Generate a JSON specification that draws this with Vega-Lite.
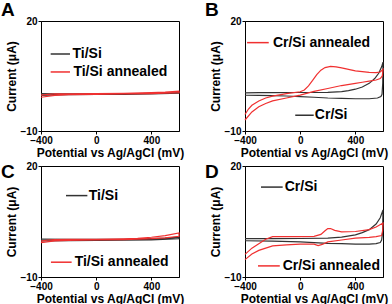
{
"$schema": "https://vega.github.io/schema/vega-lite/v6.json",
"padding": {"top": 0, "left": 0, "right": 0, "bottom": 0},
"config": {
 "view": {"stroke": "black", "strokeWidth": 1},
 "font": "Liberation Sans",
 "axis": {"grid": false, "domainColor": "black", "tickColor": "black", "labelColor": "black", "titleColor": "black", "labelFont": "Liberation Sans", "titleFont": "Liberation Sans", "labelFontWeight": "bold", "titleFontWeight": "bold", "labelFontSize": 10, "titleFontSize": 12, "labelPadding": 1, "titlePadding": 2, "labelOverlap": false, "labelFlush": false, "tickSize": 3},
 "title": {"font": "Liberation Sans", "fontSize": 19, "fontWeight": "bold", "anchor": "start", "frame": "bounds", "color": "black"},
 "line": {"strokeWidth": 1.2}
},
"datasets": {
 "cv": [
  {"p":"A","c":"k","i":1,"x":-400,"y":0.2},{"p":"A","c":"k","i":2,"x":-300,"y":0.15},{"p":"A","c":"k","i":3,"x":-200,"y":0.1},{"p":"A","c":"k","i":4,"x":0,"y":0.1},{"p":"A","c":"k","i":5,"x":200,"y":0.15},{"p":"A","c":"k","i":6,"x":400,"y":0.25},{"p":"A","c":"k","i":7,"x":500,"y":0.35},{"p":"A","c":"k","i":8,"x":600,"y":0.5},
  {"p":"A","c":"k","i":9,"x":600,"y":0.3},{"p":"A","c":"k","i":10,"x":400,"y":0.1},{"p":"A","c":"k","i":11,"x":200,"y":0.0},{"p":"A","c":"k","i":12,"x":0,"y":-0.05},{"p":"A","c":"k","i":13,"x":-200,"y":-0.1},{"p":"A","c":"k","i":14,"x":-300,"y":-0.15},{"p":"A","c":"k","i":15,"x":-400,"y":-0.3},
  {"p":"A","c":"r","i":1,"x":-400,"y":-0.2},{"p":"A","c":"r","i":2,"x":-350,"y":0.0},{"p":"A","c":"r","i":3,"x":-300,"y":0.1},{"p":"A","c":"r","i":4,"x":-200,"y":0.15},{"p":"A","c":"r","i":5,"x":0,"y":0.2},{"p":"A","c":"r","i":6,"x":200,"y":0.3},{"p":"A","c":"r","i":7,"x":400,"y":0.45},{"p":"A","c":"r","i":8,"x":500,"y":0.6},{"p":"A","c":"r","i":9,"x":600,"y":0.85},
  {"p":"A","c":"r","i":10,"x":600,"y":0.45},{"p":"A","c":"r","i":11,"x":500,"y":0.3},{"p":"A","c":"r","i":12,"x":400,"y":0.2},{"p":"A","c":"r","i":13,"x":200,"y":0.1},{"p":"A","c":"r","i":14,"x":0,"y":0.0},{"p":"A","c":"r","i":15,"x":-200,"y":-0.1},{"p":"A","c":"r","i":16,"x":-300,"y":-0.3},{"p":"A","c":"r","i":17,"x":-400,"y":-0.8},

  {"p":"B","c":"k","i":1,"x":-400,"y":0.4},{"p":"B","c":"k","i":2,"x":-300,"y":0.45},{"p":"B","c":"k","i":3,"x":-200,"y":0.45},{"p":"B","c":"k","i":4,"x":0,"y":0.5},{"p":"B","c":"k","i":5,"x":200,"y":0.55},{"p":"B","c":"k","i":6,"x":300,"y":0.75},{"p":"B","c":"k","i":7,"x":350,"y":1.0},{"p":"B","c":"k","i":8,"x":400,"y":1.4},{"p":"B","c":"k","i":9,"x":450,"y":2.0},{"p":"B","c":"k","i":10,"x":500,"y":3.0},{"p":"B","c":"k","i":11,"x":540,"y":4.3},{"p":"B","c":"k","i":12,"x":570,"y":5.8},{"p":"B","c":"k","i":13,"x":590,"y":7.5},{"p":"B","c":"k","i":14,"x":600,"y":8.8},
  {"p":"B","c":"k","i":15,"x":598,"y":3.0},{"p":"B","c":"k","i":16,"x":593,"y":0.0},{"p":"B","c":"k","i":17,"x":585,"y":-0.6},{"p":"B","c":"k","i":18,"x":560,"y":-1.0},{"p":"B","c":"k","i":19,"x":500,"y":-1.2},{"p":"B","c":"k","i":20,"x":400,"y":-1.2},{"p":"B","c":"k","i":21,"x":300,"y":-1.1},{"p":"B","c":"k","i":22,"x":200,"y":-1.0},{"p":"B","c":"k","i":23,"x":100,"y":-0.8},{"p":"B","c":"k","i":24,"x":0,"y":-0.6},{"p":"B","c":"k","i":25,"x":-100,"y":-0.45},{"p":"B","c":"k","i":26,"x":-200,"y":-0.35},{"p":"B","c":"k","i":27,"x":-300,"y":-0.3},{"p":"B","c":"k","i":28,"x":-400,"y":-0.25},
  {"p":"B","c":"r","i":1,"x":-400,"y":-5.5},{"p":"B","c":"r","i":2,"x":-375,"y":-4.0},{"p":"B","c":"r","i":3,"x":-350,"y":-3.0},{"p":"B","c":"r","i":4,"x":-300,"y":-1.8},{"p":"B","c":"r","i":5,"x":-250,"y":-1.0},{"p":"B","c":"r","i":6,"x":-200,"y":-0.5},{"p":"B","c":"r","i":7,"x":-100,"y":0.2},{"p":"B","c":"r","i":8,"x":0,"y":0.7},{"p":"B","c":"r","i":9,"x":30,"y":1.2},{"p":"B","c":"r","i":10,"x":60,"y":2.3},{"p":"B","c":"r","i":11,"x":90,"y":3.8},{"p":"B","c":"r","i":12,"x":120,"y":5.4},{"p":"B","c":"r","i":13,"x":150,"y":6.6},{"p":"B","c":"r","i":14,"x":180,"y":7.3},{"p":"B","c":"r","i":15,"x":220,"y":7.6},{"p":"B","c":"r","i":16,"x":260,"y":7.5},{"p":"B","c":"r","i":17,"x":300,"y":7.2},{"p":"B","c":"r","i":18,"x":350,"y":6.8},{"p":"B","c":"r","i":19,"x":400,"y":6.4},{"p":"B","c":"r","i":20,"x":450,"y":6.2},{"p":"B","c":"r","i":21,"x":500,"y":6.0},{"p":"B","c":"r","i":22,"x":550,"y":5.9},{"p":"B","c":"r","i":23,"x":580,"y":6.1},{"p":"B","c":"r","i":24,"x":600,"y":6.8},
  {"p":"B","c":"r","i":25,"x":595,"y":5.0},{"p":"B","c":"r","i":26,"x":580,"y":4.3},{"p":"B","c":"r","i":27,"x":550,"y":3.9},{"p":"B","c":"r","i":28,"x":500,"y":3.6},{"p":"B","c":"r","i":29,"x":450,"y":3.3},{"p":"B","c":"r","i":30,"x":400,"y":3.0},{"p":"B","c":"r","i":31,"x":300,"y":2.4},{"p":"B","c":"r","i":32,"x":200,"y":1.6},{"p":"B","c":"r","i":33,"x":100,"y":0.8},{"p":"B","c":"r","i":34,"x":0,"y":-0.2},{"p":"B","c":"r","i":35,"x":-100,"y":-1.0},{"p":"B","c":"r","i":36,"x":-200,"y":-1.8},{"p":"B","c":"r","i":37,"x":-250,"y":-2.5},{"p":"B","c":"r","i":38,"x":-300,"y":-3.4},{"p":"B","c":"r","i":39,"x":-350,"y":-4.8},{"p":"B","c":"r","i":40,"x":-400,"y":-7.0},

  {"p":"C","c":"k","i":1,"x":-400,"y":0.25},{"p":"C","c":"k","i":2,"x":-200,"y":0.15},{"p":"C","c":"k","i":3,"x":0,"y":0.15},{"p":"C","c":"k","i":4,"x":200,"y":0.2},{"p":"C","c":"k","i":5,"x":400,"y":0.35},{"p":"C","c":"k","i":6,"x":500,"y":0.5},{"p":"C","c":"k","i":7,"x":600,"y":0.75},
  {"p":"C","c":"k","i":8,"x":600,"y":0.35},{"p":"C","c":"k","i":9,"x":400,"y":0.05},{"p":"C","c":"k","i":10,"x":200,"y":-0.05},{"p":"C","c":"k","i":11,"x":0,"y":-0.1},{"p":"C","c":"k","i":12,"x":-200,"y":-0.15},{"p":"C","c":"k","i":13,"x":-400,"y":-0.25},
  {"p":"C","c":"r","i":1,"x":-400,"y":-0.3},{"p":"C","c":"r","i":2,"x":-350,"y":0.0},{"p":"C","c":"r","i":3,"x":-300,"y":0.1},{"p":"C","c":"r","i":4,"x":-200,"y":0.15},{"p":"C","c":"r","i":5,"x":0,"y":0.15},{"p":"C","c":"r","i":6,"x":200,"y":0.3},{"p":"C","c":"r","i":7,"x":300,"y":0.45},{"p":"C","c":"r","i":8,"x":400,"y":0.75},{"p":"C","c":"r","i":9,"x":500,"y":1.2},{"p":"C","c":"r","i":10,"x":600,"y":1.9},
  {"p":"C","c":"r","i":11,"x":600,"y":1.0},{"p":"C","c":"r","i":12,"x":500,"y":0.6},{"p":"C","c":"r","i":13,"x":400,"y":0.35},{"p":"C","c":"r","i":14,"x":300,"y":0.2},{"p":"C","c":"r","i":15,"x":200,"y":0.1},{"p":"C","c":"r","i":16,"x":0,"y":0.0},{"p":"C","c":"r","i":17,"x":-200,"y":-0.1},{"p":"C","c":"r","i":18,"x":-300,"y":-0.25},{"p":"C","c":"r","i":19,"x":-400,"y":-0.7},

  {"p":"D","c":"k","i":1,"x":-400,"y":0.35},{"p":"D","c":"k","i":2,"x":-200,"y":0.35},{"p":"D","c":"k","i":3,"x":0,"y":0.4},{"p":"D","c":"k","i":4,"x":200,"y":0.5},{"p":"D","c":"k","i":5,"x":300,"y":0.8},{"p":"D","c":"k","i":6,"x":400,"y":1.4},{"p":"D","c":"k","i":7,"x":450,"y":2.0},{"p":"D","c":"k","i":8,"x":500,"y":2.8},{"p":"D","c":"k","i":9,"x":550,"y":4.3},{"p":"D","c":"k","i":10,"x":580,"y":6.0},{"p":"D","c":"k","i":11,"x":600,"y":8.1},
  {"p":"D","c":"k","i":12,"x":597,"y":2.0},{"p":"D","c":"k","i":13,"x":590,"y":0.0},{"p":"D","c":"k","i":14,"x":580,"y":-0.7},{"p":"D","c":"k","i":15,"x":550,"y":-1.0},{"p":"D","c":"k","i":16,"x":500,"y":-1.1},{"p":"D","c":"k","i":17,"x":400,"y":-1.1},{"p":"D","c":"k","i":18,"x":300,"y":-1.0},{"p":"D","c":"k","i":19,"x":200,"y":-0.9},{"p":"D","c":"k","i":20,"x":100,"y":-0.7},{"p":"D","c":"k","i":21,"x":0,"y":-0.5},{"p":"D","c":"k","i":22,"x":-200,"y":-0.3},{"p":"D","c":"k","i":23,"x":-400,"y":-0.2},
  {"p":"D","c":"r","i":1,"x":-400,"y":-3.9},{"p":"D","c":"r","i":2,"x":-350,"y":-2.2},{"p":"D","c":"r","i":3,"x":-300,"y":-1.0},{"p":"D","c":"r","i":4,"x":-250,"y":0.2},{"p":"D","c":"r","i":5,"x":-200,"y":0.9},{"p":"D","c":"r","i":6,"x":-100,"y":0.9},{"p":"D","c":"r","i":7,"x":0,"y":0.9},{"p":"D","c":"r","i":8,"x":100,"y":1.0},{"p":"D","c":"r","i":9,"x":150,"y":1.5},{"p":"D","c":"r","i":10,"x":180,"y":2.5},{"p":"D","c":"r","i":11,"x":200,"y":3.1},{"p":"D","c":"r","i":12,"x":220,"y":3.1},{"p":"D","c":"r","i":13,"x":250,"y":2.6},{"p":"D","c":"r","i":14,"x":300,"y":2.2},{"p":"D","c":"r","i":15,"x":400,"y":2.3},{"p":"D","c":"r","i":16,"x":500,"y":2.8},{"p":"D","c":"r","i":17,"x":550,"y":3.5},{"p":"D","c":"r","i":18,"x":600,"y":4.6},
  {"p":"D","c":"r","i":19,"x":597,"y":2.5},{"p":"D","c":"r","i":20,"x":590,"y":1.2},{"p":"D","c":"r","i":21,"x":550,"y":0.9},{"p":"D","c":"r","i":22,"x":500,"y":0.7},{"p":"D","c":"r","i":23,"x":400,"y":0.5},{"p":"D","c":"r","i":24,"x":300,"y":0.0},{"p":"D","c":"r","i":25,"x":200,"y":-0.5},{"p":"D","c":"r","i":26,"x":160,"y":-1.2},{"p":"D","c":"r","i":27,"x":130,"y":-1.5},{"p":"D","c":"r","i":28,"x":100,"y":-1.1},{"p":"D","c":"r","i":29,"x":0,"y":-1.1},{"p":"D","c":"r","i":30,"x":-100,"y":-1.3},{"p":"D","c":"r","i":31,"x":-200,"y":-1.6},{"p":"D","c":"r","i":32,"x":-300,"y":-2.8},{"p":"D","c":"r","i":33,"x":-350,"y":-3.8},{"p":"D","c":"r","i":34,"x":-400,"y":-5.3}
 ],
 "leg": [
  {"p":"A","c":"k","x1":-330,"x2":-190,"tx":-172,"y":11,"label":"Ti/Si"},
  {"p":"A","c":"r","x1":-330,"x2":-190,"tx":-165,"y":6.1,"label":"Ti/Si annealed"},
  {"p":"B","c":"r","x1":-385,"x2":-228,"tx":-198,"y":14.1,"label":"Cr/Si annealed"},
  {"p":"B","c":"k","x1":-36,"x2":98,"tx":106,"y":-5.7,"label":"Cr/Si"},
  {"p":"C","c":"k","x1":-219,"x2":-64,"tx":-54,"y":12,"label":"Ti/Si"},
  {"p":"C","c":"r","x1":-328,"x2":-178,"tx":-156,"y":-6,"label":"Ti/Si annealed"},
  {"p":"D","c":"k","x1":-284,"x2":-127,"tx":-112,"y":14.3,"label":"Cr/Si"},
  {"p":"D","c":"r","x1":-306,"x2":-148,"tx":-127,"y":-7,"label":"Cr/Si annealed"}
 ]
},
"columns": 2,
"spacing": {"row": 35, "column": 66},
"bounds": "flush",
"concat": [
 {"width": 138, "height": 110, "title": {"text": "A", "dx": -4, "offset": -4},
  "layer": [
   {"data": {"name": "cv"}, "transform": [{"filter": "datum.p === 'A'"}], "mark": {"type": "line"},
    "encoding": {
     "x": {"field": "x", "type": "quantitative", "scale": {"domain": [-400, 600], "nice": false}, "axis": {"title": "Potential vs Ag/AgCl (mV)", "values": [-400,-200,0,200,400,600]}},
     "y": {"field": "y", "type": "quantitative", "scale": {"domain": [-10, 20], "nice": false}, "axis": {"title": "Current (μA)", "values": [-10,-5,0,5,10,15,20]}},
     "color": {"field": "c", "type": "nominal", "scale": {"domain": ["k", "r"], "range": ["#333333", "#f03030"]}, "legend": null},
     "order": {"field": "i", "type": "quantitative"}}},
   {"data": {"name": "leg"}, "transform": [{"filter": "datum.p === 'A'"}], "mark": {"type": "rule", "strokeWidth": 1.5},
    "encoding": {"x": {"field": "x1", "type": "quantitative"}, "x2": {"field": "x2"}, "y": {"field": "y", "type": "quantitative"}, "color": {"field": "c", "type": "nominal", "legend": null}}},
   {"data": {"name": "leg"}, "transform": [{"filter": "datum.p === 'A'"}], "mark": {"type": "text", "font": "Liberation Sans", "fontWeight": "bold", "fontSize": 14, "align": "left", "baseline": "middle", "color": "black"},
    "encoding": {"x": {"field": "tx", "type": "quantitative"}, "y": {"field": "y", "type": "quantitative"}, "text": {"field": "label"}}}
  ]},
 {"width": 138, "height": 110, "title": {"text": "B", "dx": -4, "offset": -4},
  "layer": [
   {"data": {"name": "cv"}, "transform": [{"filter": "datum.p === 'B'"}], "mark": {"type": "line"},
    "encoding": {
     "x": {"field": "x", "type": "quantitative", "scale": {"domain": [-400, 600], "nice": false}, "axis": {"title": "Potential vs Ag/AgCl (mV)", "values": [-400,-300,-200,-100,0,100,200,300,400,500,600], "labelOpacity": {"condition": {"test": "datum.value % 200 === 0", "value": 1}, "value": 0}}},
     "y": {"field": "y", "type": "quantitative", "scale": {"domain": [-10, 20], "nice": false}, "axis": {"title": "Current (μA)", "values": [-10,-7.5,-5,-2.5,0,2.5,5,7.5,10,12.5,15,17.5,20], "labelOpacity": {"condition": {"test": "datum.value % 5 === 0", "value": 1}, "value": 0}}},
     "color": {"field": "c", "type": "nominal", "scale": {"domain": ["k", "r"], "range": ["#333333", "#f03030"]}, "legend": null},
     "order": {"field": "i", "type": "quantitative"}}},
   {"data": {"name": "leg"}, "transform": [{"filter": "datum.p === 'B'"}], "mark": {"type": "rule", "strokeWidth": 1.5},
    "encoding": {"x": {"field": "x1", "type": "quantitative"}, "x2": {"field": "x2"}, "y": {"field": "y", "type": "quantitative"}, "color": {"field": "c", "type": "nominal", "legend": null}}},
   {"data": {"name": "leg"}, "transform": [{"filter": "datum.p === 'B'"}], "mark": {"type": "text", "font": "Liberation Sans", "fontWeight": "bold", "fontSize": 14, "align": "left", "baseline": "middle", "color": "black"},
    "encoding": {"x": {"field": "tx", "type": "quantitative"}, "y": {"field": "y", "type": "quantitative"}, "text": {"field": "label"}}}
  ]},
 {"width": 138, "height": 111, "title": {"text": "C", "dx": -4, "offset": -21},
  "layer": [
   {"data": {"name": "cv"}, "transform": [{"filter": "datum.p === 'C'"}], "mark": {"type": "line"},
    "encoding": {
     "x": {"field": "x", "type": "quantitative", "scale": {"domain": [-400, 600], "nice": false}, "axis": {"title": "Potential vs Ag/AgCl (mV)", "values": [-400,-200,0,200,400,600]}},
     "y": {"field": "y", "type": "quantitative", "scale": {"domain": [-10, 20], "nice": false}, "axis": {"title": "Current (μA)", "values": [-10,-5,0,5,10,15,20]}},
     "color": {"field": "c", "type": "nominal", "scale": {"domain": ["k", "r"], "range": ["#333333", "#f03030"]}, "legend": null},
     "order": {"field": "i", "type": "quantitative"}}},
   {"data": {"name": "leg"}, "transform": [{"filter": "datum.p === 'C'"}], "mark": {"type": "rule", "strokeWidth": 1.5},
    "encoding": {"x": {"field": "x1", "type": "quantitative"}, "x2": {"field": "x2"}, "y": {"field": "y", "type": "quantitative"}, "color": {"field": "c", "type": "nominal", "legend": null}}},
   {"data": {"name": "leg"}, "transform": [{"filter": "datum.p === 'C'"}], "mark": {"type": "text", "font": "Liberation Sans", "fontWeight": "bold", "fontSize": 14, "align": "left", "baseline": "middle", "color": "black"},
    "encoding": {"x": {"field": "tx", "type": "quantitative"}, "y": {"field": "y", "type": "quantitative"}, "text": {"field": "label"}}}
  ]},
 {"width": 138, "height": 111, "title": {"text": "D", "dx": -4, "offset": -21},
  "layer": [
   {"data": {"name": "cv"}, "transform": [{"filter": "datum.p === 'D'"}], "mark": {"type": "line"},
    "encoding": {
     "x": {"field": "x", "type": "quantitative", "scale": {"domain": [-400, 600], "nice": false}, "axis": {"title": "Potential vs Ag/AgCl (mV)", "values": [-400,-300,-200,-100,0,100,200,300,400,500,600], "labelOpacity": {"condition": {"test": "datum.value % 200 === 0", "value": 1}, "value": 0}}},
     "y": {"field": "y", "type": "quantitative", "scale": {"domain": [-10, 20], "nice": false}, "axis": {"title": "Current (μA)", "values": [-10,-7.5,-5,-2.5,0,2.5,5,7.5,10,12.5,15,17.5,20], "labelOpacity": {"condition": {"test": "datum.value % 5 === 0", "value": 1}, "value": 0}}},
     "color": {"field": "c", "type": "nominal", "scale": {"domain": ["k", "r"], "range": ["#333333", "#f03030"]}, "legend": null},
     "order": {"field": "i", "type": "quantitative"}}},
   {"data": {"name": "leg"}, "transform": [{"filter": "datum.p === 'D'"}], "mark": {"type": "rule", "strokeWidth": 1.5},
    "encoding": {"x": {"field": "x1", "type": "quantitative"}, "x2": {"field": "x2"}, "y": {"field": "y", "type": "quantitative"}, "color": {"field": "c", "type": "nominal", "legend": null}}},
   {"data": {"name": "leg"}, "transform": [{"filter": "datum.p === 'D'"}], "mark": {"type": "text", "font": "Liberation Sans", "fontWeight": "bold", "fontSize": 14, "align": "left", "baseline": "middle", "color": "black"},
    "encoding": {"x": {"field": "tx", "type": "quantitative"}, "y": {"field": "y", "type": "quantitative"}, "text": {"field": "label"}}}
  ]}
]
}
